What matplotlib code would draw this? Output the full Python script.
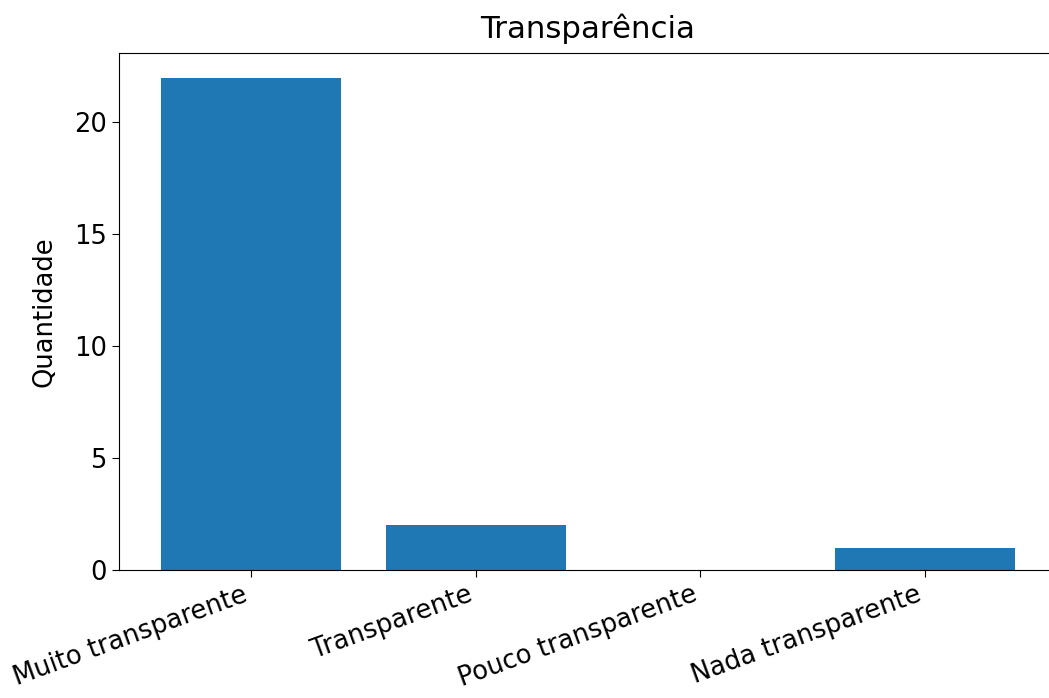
import matplotlib
matplotlib.use("Agg")
import matplotlib.pyplot as plt

categorias = ["Muito transparente", "Transparente", "Pouco transparente", "Nada transparente"]
quantidades = [22, 2, 0, 1]

plt.rcParams["font.size"] = 18.5

fig = plt.figure(figsize=(10.49, 6.98), dpi=100)
# the right side of the axes runs past the picture edge, as in the reference
ax = fig.add_axes([118.5 / 1049, 128 / 698, 939 / 1049, 517 / 698])

ax.bar(categorias, quantidades, color="#1f77b4")
ax.set_title("Transparência", pad=11)
ax.set_ylabel("Quantidade", labelpad=12)
ax.tick_params(length=5)
plt.setp(ax.get_xticklabels(), rotation=20, ha="right")

fig.savefig("out.png", dpi=100)
